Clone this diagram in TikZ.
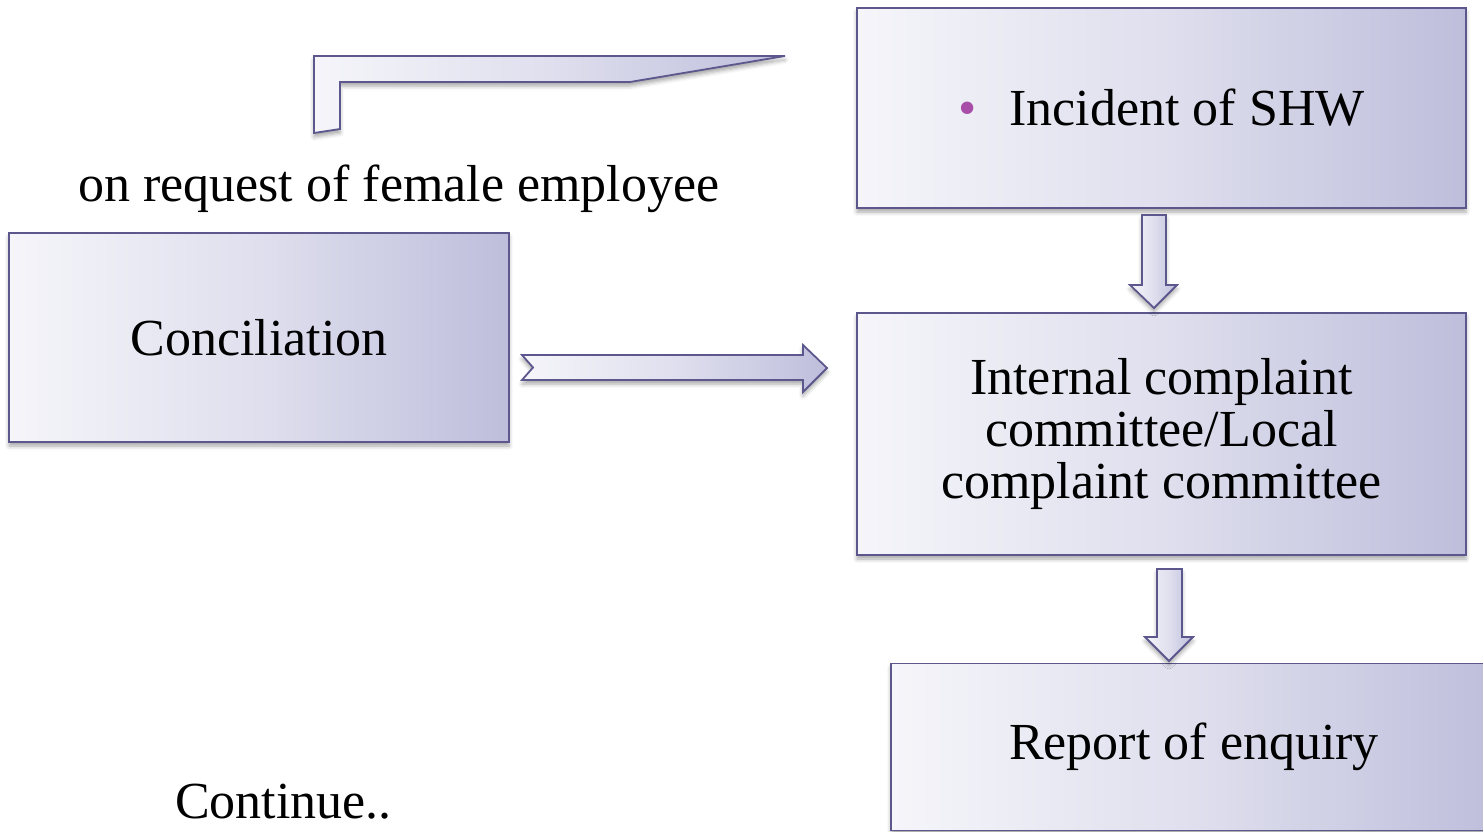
\documentclass[tikz,border=0pt]{standalone}
\usepackage{fontspec}
\setmainfont{Liberation Serif}
\usetikzlibrary{shadows.blur}
\definecolor{edgec}{RGB}{92,88,142}
\definecolor{fillL}{RGB}{245,245,250}
\definecolor{fillR}{RGB}{190,190,220}
\definecolor{bulc}{RGB}{168,78,168}
\newcommand\bigtxt{\fontsize{52}{52}\selectfont}
\tikzset{
  shapefill/.style={draw=edgec, line width=1.8pt, line join=miter,
    left color=fillL, right color=fillR, middle color=fillL!60!fillR,
    blur shadow={shadow xshift=0pt, shadow yshift=-4pt, shadow blur radius=4pt, shadow opacity=35}},
  box/.style={shapefill, rectangle, inner sep=0pt, align=center, font=\bigtxt},
  plaintext/.style={font=\bigtxt, inner sep=0pt}
}
\begin{document}
\begin{tikzpicture}[x=1pt,y=-1pt]
\useasboundingbox (0,0) rectangle (1483,832);
% boxes
\node[box, minimum width=609pt, minimum height=200pt] (inc) at (1161.5,108)
  {\textcolor{bulc}{\textbullet}\hspace{33pt}Incident of SHW};
\node[box, minimum width=500pt, minimum height=209pt] (con) at (259,337.5) {Conciliation};
\node[box, minimum width=609pt, minimum height=242pt] (icc) at (1161.5,434)
  {Internal complaint\\committee/Local\\complaint committee};
\node[box, minimum width=606pt, minimum height=167pt] (rep) at (1194,747)
  {\raisebox{-6pt}{Report of enquiry}};
% free texts
\node[plaintext, anchor=base west] (req) at (78,201) {on request of female employee};
\node[plaintext, anchor=base west] (cont) at (175,818) {Continue..};
% bent shape
\draw[shapefill] (314,56) -- (785,56) -- (630,82) -- (340,82) -- (340,129) -- (314,133) -- cycle;
% horizontal notched arrow
\draw[shapefill] (522,355) -- (803,355) -- (803,345) -- (827,368) -- (803,392) -- (803,380) -- (522,380) -- (533,367.5) -- cycle;
% down arrows
\draw[shapefill] (1142,215) -- (1166,215) -- (1166,285) -- (1177,285) -- (1154,308) -- (1130,285) -- (1142,285) -- cycle;
\draw[shapefill] (1157,569) -- (1182,569) -- (1182,637) -- (1193,637) -- (1169,661) -- (1145,637) -- (1157,637) -- cycle;
\end{tikzpicture}
\end{document}
